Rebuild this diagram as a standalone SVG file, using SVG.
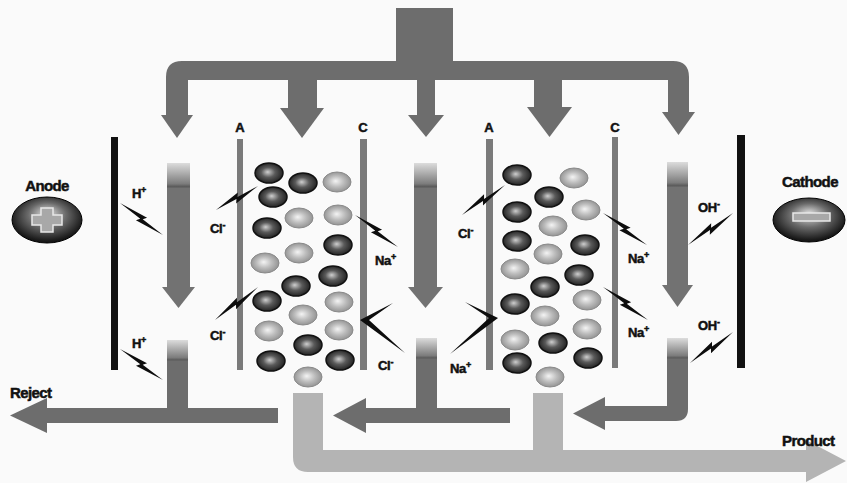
<svg xmlns="http://www.w3.org/2000/svg" xmlns:xlink="http://www.w3.org/1999/xlink" width="847" height="483" viewBox="0 0 847 483">
  <style>
    .pipe { fill: #6d6d6d; }
    .prod { fill: #b4b4b4; }
    .mem { fill: #7a7a7a; }
    .elec { fill: #111; }
    .lbl { font-family: "Liberation Sans", Arial, sans-serif; font-weight: bold; fill: #111; stroke: #111; stroke-width: 0.5; }
    .ion { font-size: 13px; letter-spacing: -0.3px; }
    .sup { font-size: 9px; }
    .big { font-size: 15px; letter-spacing: -0.6px; }
    .bolt { fill: #0d0d0d; }
  </style>
  <defs>
    <radialGradient id="gDark" cx="0.5" cy="0.5" r="0.55" fx="0.45" fy="0.45">
      <stop offset="0" stop-color="#cfcfcf"/>
      <stop offset="0.45" stop-color="#5a5a5a"/>
      <stop offset="1" stop-color="#1a1a1a"/>
    </radialGradient>
    <radialGradient id="gLight" cx="0.5" cy="0.5" r="0.55" fx="0.45" fy="0.45">
      <stop offset="0" stop-color="#f4f4f4"/>
      <stop offset="0.5" stop-color="#bcbcbc"/>
      <stop offset="1" stop-color="#8c8c8c"/>
    </radialGradient>
    <radialGradient id="gElec" cx="0.5" cy="0.45" r="0.6" fx="0.5" fy="0.35">
      <stop offset="0" stop-color="#e2e2e2"/>
      <stop offset="0.45" stop-color="#6a6a6a"/>
      <stop offset="0.85" stop-color="#1c1c1c"/>
      <stop offset="1" stop-color="#050505"/>
    </radialGradient>
    <linearGradient id="gFade" x1="0" y1="0" x2="0" y2="1">
      <stop offset="0" stop-color="#dcdcdc"/>
      <stop offset="0.8" stop-color="#7c7c7c"/>
      <stop offset="0.9" stop-color="#5c5c5c"/>
      <stop offset="1" stop-color="#727272"/>
    </linearGradient>
    <ellipse id="dk" rx="14" ry="10" fill="url(#gDark)" stroke="#111" stroke-width="1.5"/>
    <ellipse id="lt" rx="14" ry="10" fill="url(#gLight)" stroke="#8a8a8a" stroke-width="1"/>
    <!-- zig-zag pointer, 100 units long on the x axis -->
    <path id="bolt" d="M0,0 L57,-4.3 L52,-0.6 L100,0 L43,4.3 L48,0.6 Z"/>
  </defs>

  <rect width="847" height="483" fill="#fafafa"/>

  <!-- electrodes -->
  <g id="anode">
    <rect class="elec" x="111" y="137" width="7" height="233"/>
    <ellipse cx="47" cy="220" rx="35" ry="23" fill="url(#gElec)" stroke="#000" stroke-width="1"/>
    <path d="M41,208 H53 V215 H62 V225 H53 V232 H41 V225 H32 V215 H41 Z" fill="#a8a8a8" stroke="#e8e8e8" stroke-width="1.5"/>
    <text class="lbl big" x="47" y="191" text-anchor="middle">Anode</text>
  </g>
  <g id="cathode">
    <rect class="elec" x="737" y="135" width="8" height="233"/>
    <ellipse cx="809" cy="220" rx="36" ry="22" fill="url(#gElec)" stroke="#000" stroke-width="1"/>
    <rect x="793" y="213" width="37" height="8" fill="#a8a8a8" stroke="#e8e8e8" stroke-width="1.5"/>
    <text class="lbl big" x="810" y="187" text-anchor="middle">Cathode</text>
  </g>

  <!-- ion exchange membranes -->
  <g id="membrane-a1">
    <rect class="mem" x="237" y="139" width="6" height="231"/>
    <text class="lbl" x="240" y="132" font-size="13" text-anchor="middle">A</text>
  </g>
  <g id="membrane-c1">
    <rect class="mem" x="360" y="139" width="7" height="231"/>
    <text class="lbl" x="363" y="132" font-size="13" text-anchor="middle">C</text>
  </g>
  <g id="membrane-a2">
    <rect class="mem" x="486" y="139" width="7" height="231"/>
    <text class="lbl" x="489" y="132" font-size="13" text-anchor="middle">A</text>
  </g>
  <g id="membrane-c2">
    <rect class="mem" x="612" y="137" width="6" height="231"/>
    <text class="lbl" x="615" y="132" font-size="13" text-anchor="middle">C</text>
  </g>

  <!-- dilute chambers with ions -->
  <g id="chamber-1">
    <use href="#dk" x="269" y="173"/><use href="#dk" x="303" y="183"/><use href="#lt" x="337" y="182"/>
    <use href="#dk" x="273" y="197"/><use href="#lt" x="299" y="218"/><use href="#lt" x="338" y="215"/>
    <use href="#dk" x="267" y="228"/><use href="#dk" x="338" y="245"/><use href="#lt" x="299" y="253"/>
    <use href="#lt" x="265" y="263"/><use href="#dk" x="333" y="276"/><use href="#dk" x="296" y="286"/>
    <use href="#dk" x="267" y="301"/><use href="#lt" x="339" y="302"/><use href="#lt" x="303" y="315"/>
    <use href="#lt" x="269" y="331"/><use href="#lt" x="339" y="330"/><use href="#dk" x="308" y="345"/>
    <use href="#dk" x="271" y="361"/><use href="#dk" x="340" y="360"/><use href="#lt" x="308" y="377"/>
  </g>
  <g id="chamber-2">
    <use href="#dk" x="517" y="175"/><use href="#lt" x="574" y="178"/><use href="#dk" x="549" y="197"/>
    <use href="#dk" x="517" y="212"/><use href="#lt" x="586" y="210"/><use href="#lt" x="553" y="226"/>
    <use href="#dk" x="517" y="241"/><use href="#dk" x="585" y="245"/><use href="#lt" x="548" y="254"/>
    <use href="#lt" x="515" y="269"/><use href="#dk" x="579" y="275"/><use href="#dk" x="545" y="287"/>
    <use href="#lt" x="587" y="300"/><use href="#dk" x="515" y="304"/><use href="#lt" x="545" y="316"/>
    <use href="#lt" x="515" y="340"/><use href="#lt" x="587" y="329"/><use href="#dk" x="553" y="343"/>
    <use href="#dk" x="517" y="363"/><use href="#dk" x="588" y="358"/><use href="#lt" x="550" y="377"/>
  </g>

  <!-- concentrate channels -->
  <g id="channel-1">
    <rect x="167" y="163" width="23" height="26" fill="url(#gFade)"/>
    <rect x="167" y="188" width="23" height="100" fill="#727272"/>
    <polygon points="162,287 195,287 178.5,308" fill="#727272"/>
  </g>
  <g id="channel-3">
    <rect x="414" y="163" width="23" height="26" fill="url(#gFade)"/>
    <rect x="414" y="188" width="23" height="100" fill="#727272"/>
    <polygon points="408,287 443,287 425.5,308" fill="#727272"/>
  </g>
  <g id="channel-5">
    <rect x="667" y="162" width="21" height="26" fill="url(#gFade)"/>
    <rect x="667" y="187" width="21" height="99" fill="#727272"/>
    <polygon points="662,285 693,285 677.5,307" fill="#727272"/>
  </g>

  <!-- flows and ion pointers -->
  <g id="connectors">
    <!-- feed manifold -->
    <g id="feed">
      <rect class="pipe" x="396" y="8" width="57" height="58"/>
      <path class="pipe" d="M166,115 V77 Q166,61 182,61 H673 Q689,61 689,77 V112 H668 V80 H188 V115 Z"/>
      <polygon class="pipe" points="161,115 193,115 177,138"/>
      <rect class="pipe" x="288" y="78" width="29" height="31"/>
      <polygon class="pipe" points="280,108 324,108 302,138"/>
      <rect class="pipe" x="417" y="78" width="18" height="38"/>
      <polygon class="pipe" points="408,115 444,115 426,137"/>
      <rect class="pipe" x="534" y="78" width="28" height="30"/>
      <polygon class="pipe" points="527,107 572,107 549.5,137"/>
      <polygon class="pipe" points="662,112 695,112 678.5,135"/>
    </g>

    <!-- reject outlets -->
    <g id="reject">
      <rect x="167" y="340" width="21" height="22" fill="url(#gFade)"/>
      <rect class="pipe" x="167" y="361" width="21" height="50"/>
      <rect class="pipe" x="45" y="408" width="233" height="15"/>
      <polygon class="pipe" points="10,415.5 47,398 47,433"/>

      <rect x="416" y="338" width="21" height="22" fill="url(#gFade)"/>
      <rect class="pipe" x="416" y="359" width="21" height="52"/>
      <rect class="pipe" x="364" y="408" width="146" height="15"/>
      <polygon class="pipe" points="333,415.5 366,398 366,433"/>

      <rect x="667" y="338" width="21" height="22" fill="url(#gFade)"/>
      <path class="pipe" d="M667,359 V406 H603 V421 H676 Q688,421 688,409 V359 Z"/>
      <polygon class="pipe" points="573,413.5 605,397 605,430"/>
    </g>

    <!-- product outlet -->
    <path id="product" class="prod" d="M293,393 V457 Q293,472 308,472 H806 V482 L846,461 L806,440 V450 H563 V393 H533 V450 H323 V393 Z"/>

    <!-- ion transport pointers -->
    <g id="pointers" class="bolt">
      <use href="#bolt" transform="translate(120,203) rotate(36.7) scale(0.536,1)"/>
      <use href="#bolt" transform="translate(120,349) rotate(35.8) scale(0.53,1)"/>
      <use href="#bolt" transform="translate(258,186) rotate(150.3) scale(0.484,1)"/>
      <use href="#bolt" transform="translate(258,287) rotate(142.5) scale(0.542,1)"/>
      <use href="#bolt" transform="translate(355,215) rotate(36.7) scale(0.536,1)"/>
      <use href="#bolt" transform="translate(603,213) rotate(36) scale(0.544,1)"/>
      <use href="#bolt" transform="translate(603,287) rotate(36.3) scale(0.558,1)"/>
      <use href="#bolt" transform="translate(505,185) rotate(145.1) scale(0.524,1)"/>
      <use href="#bolt" transform="translate(733,213) rotate(144.6) scale(0.552,1)"/>
      <use href="#bolt" transform="translate(733,332) rotate(144.2) scale(0.53,1)"/>
      <!-- chevrons at the lower membrane crossings -->
      <polygon points="393,303 360,320 405,353 369,320"/>
      <polygon points="465,302 498,318 450,354 489,318"/>
    </g>
  </g>

  <!-- ion labels -->
  <g id="ion-labels" class="lbl ion">
    <text x="132" y="198">H<tspan class="sup" dy="-5">+</tspan></text>
    <text x="132" y="348">H<tspan class="sup" dy="-5">+</tspan></text>
    <text x="210" y="233">Cl<tspan class="sup" dy="-5">-</tspan></text>
    <text x="210" y="340">Cl<tspan class="sup" dy="-5">-</tspan></text>
    <text x="375" y="265">Na<tspan class="sup" dy="-5">+</tspan></text>
    <text x="378" y="370">Cl<tspan class="sup" dy="-5">-</tspan></text>
    <text x="458" y="238">Cl<tspan class="sup" dy="-5">-</tspan></text>
    <text x="450" y="373">Na<tspan class="sup" dy="-5">+</tspan></text>
    <text x="628" y="263">Na<tspan class="sup" dy="-5">+</tspan></text>
    <text x="628" y="337">Na<tspan class="sup" dy="-5">+</tspan></text>
    <text x="698" y="212">OH<tspan class="sup" dy="-5">-</tspan></text>
    <text x="698" y="330">OH<tspan class="sup" dy="-5">-</tspan></text>
  </g>

  <g id="stream-labels" class="lbl big">
    <text x="10" y="398">Reject</text>
    <text x="782" y="446">Product</text>
  </g>
</svg>
